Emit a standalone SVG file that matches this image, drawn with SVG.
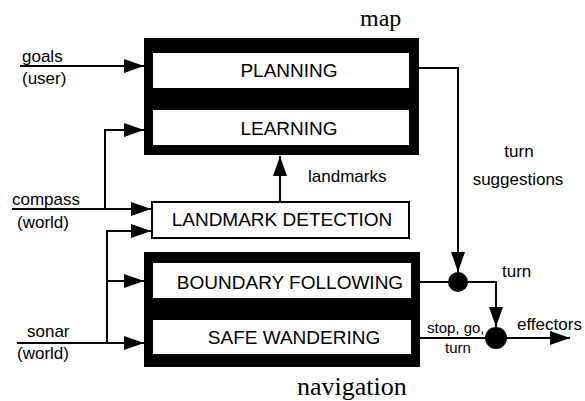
<svg xmlns="http://www.w3.org/2000/svg" width="585" height="401" viewBox="0 0 585 401">
<style>
.box{font-family:"Liberation Sans",Arial,sans-serif;font-size:19px;fill:#000;text-anchor:middle}
.lbl{font-family:"Liberation Sans",Arial,sans-serif;font-size:17px;fill:#000}
.sm{font-family:"Liberation Sans",Arial,sans-serif;font-size:15px;fill:#000}
.title{font-family:"Liberation Serif","Times New Roman",serif;fill:#000}
.ln{fill:none;stroke:#000;stroke-width:2}
</style>
<defs>
<marker id="ah" markerUnits="userSpaceOnUse" markerWidth="20" markerHeight="14" refX="20" refY="7" orient="auto">
<path d="M0,0 L20,7 L0,14 z" fill="#000"/>
</marker>
</defs>
<rect width="585" height="401" fill="#fff"/>
<g id="map">
<rect x="144" y="38" width="275" height="117" fill="#000"/>
<text class="title" x="360" y="26" font-size="24">map</text>
</g>
<g id="planning">
<rect x="153" y="53" width="256" height="35" fill="#fff"/>
<text class="box" x="289" y="77">PLANNING</text>
</g>
<g id="learning">
<rect x="153" y="110" width="256" height="35" fill="#fff"/>
<text class="box" x="289" y="135">LEARNING</text>
</g>
<g id="landmark-detection">
<rect x="152" y="202" width="257" height="36" fill="#fff" stroke="#000" stroke-width="2"/>
<text class="box" x="282" y="226">LANDMARK DETECTION</text>
</g>
<g id="navigation">
<rect x="144" y="252" width="276" height="115" fill="#000"/>
<text class="title" x="297" y="395" font-size="26">navigation</text>
</g>
<g id="boundary-following">
<rect x="153" y="263" width="258" height="35" fill="#fff"/>
<text class="box" x="290" y="289">BOUNDARY FOLLOWING</text>
</g>
<g id="safe-wandering">
<rect x="153" y="320" width="258" height="34" fill="#fff"/>
<text class="box" x="294" y="344">SAFE WANDERING</text>
</g>
<g id="junction1"><circle cx="458" cy="282" r="10" fill="#000"/></g>
<g id="junction2"><circle cx="496" cy="338" r="11" fill="#000"/></g>
<g id="connectors">
<path class="ln" d="M20,66 H144" marker-end="url(#ah)"/>
<path class="ln" d="M105,209 V130 H144" marker-end="url(#ah)"/>
<path class="ln" d="M12,209 H151" marker-end="url(#ah)"/>
<path class="ln" d="M107,343 V231 H151" marker-end="url(#ah)"/>
<path class="ln" d="M107,281 H144" marker-end="url(#ah)"/>
<path class="ln" d="M17,343 H144" marker-end="url(#ah)"/>
<path class="ln" d="M280,202 V156" marker-end="url(#ah)"/>
<path class="ln" d="M419,68 H458 V272" marker-end="url(#ah)"/>
<path class="ln" d="M420,282 H496 V327" marker-end="url(#ah)"/>
<path class="ln" d="M420,338 H570" marker-end="url(#ah)"/>
</g>
<g id="labels">
<text class="lbl" x="22" y="62">goals</text>
<text class="lbl" x="22" y="84">(user)</text>
<text class="lbl" x="12" y="205">compass</text>
<text class="lbl" x="17" y="228">(world)</text>
<text class="lbl" x="27" y="337">sonar</text>
<text class="lbl" x="17" y="359">(world)</text>
<text class="lbl" x="308" y="182">landmarks</text>
<text class="lbl" x="519" y="157" text-anchor="middle">turn</text>
<text class="lbl" x="518" y="185" text-anchor="middle">suggestions</text>
<text class="lbl" x="502" y="277">turn</text>
<text class="sm" x="427" y="333">stop, go,</text>
<text class="sm" x="445" y="353">turn</text>
<text class="lbl" x="517" y="330">effectors</text>
</g>
</svg>
